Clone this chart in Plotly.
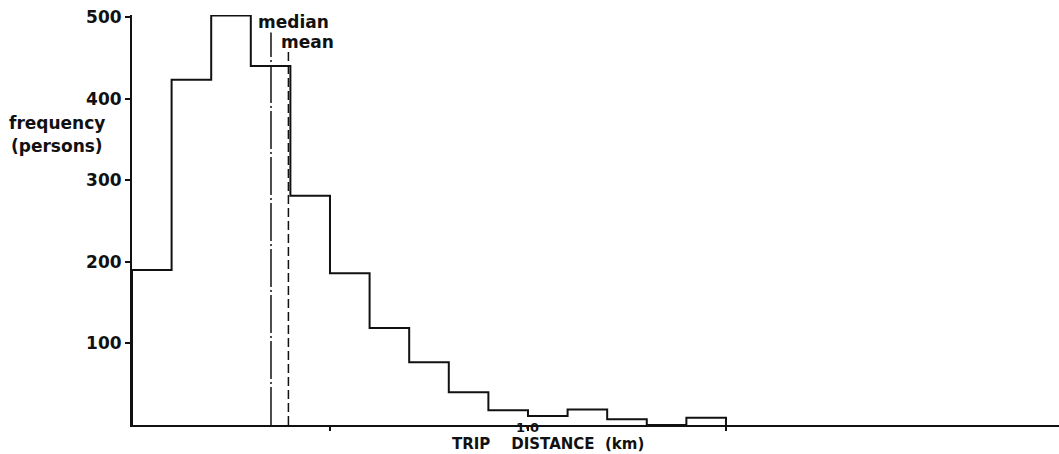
import plotly.graph_objects as go

# Trip-distance histogram: 0.1 km bins from 0.0 to 1.5 km
bin_edges_km = [0.0, 0.1, 0.2, 0.3, 0.4, 0.5, 0.6, 0.7, 0.8, 0.9,
                1.0, 1.1, 1.2, 1.3, 1.4, 1.5]
frequency = [190, 423, 502, 440, 281, 186, 119, 77, 40, 18,
             11, 19, 7, 0, 9]
median_km = 0.351
mean_km = 0.395

y_ticks = [100, 200, 300, 400, 500]
x_ticks = [0.5, 1.0, 1.5]

INK = "#111111"
FONT = "DejaVu Sans"

# step outline of the histogram, closed down to the axis at both ends
step_x = [bin_edges_km[0]] + bin_edges_km[:-1] + [bin_edges_km[-1]]
step_y = [0] + frequency + [0]

fig = go.Figure()
fig.add_trace(go.Scatter(
    x=step_x, y=step_y, mode="lines", line_shape="hv",
    line=dict(color=INK, width=2), hoverinfo="skip", showlegend=False,
))
fig.add_trace(go.Scatter(
    x=[median_km, median_km], y=[0, 481], mode="lines",
    line=dict(color=INK, width=1.5, dash="38px,3px,2px,3px"),
    hoverinfo="skip", showlegend=False,
))
fig.add_trace(go.Scatter(
    x=[mean_km, mean_km], y=[0, 462], mode="lines",
    line=dict(color=INK, width=1.5, dash="9px,4px"),
    hoverinfo="skip", showlegend=False,
))


def bold(size):
    return dict(family=FONT, size=size, color=INK, weight="bold")


annotations = [
    dict(x=0.409, y=494, xref="x", yref="y", text="median", showarrow=False,
         font=bold(17), xanchor="center", yanchor="middle", borderpad=0),
    dict(x=0.442, y=470, xref="x", yref="y", text="mean", showarrow=False,
         font=bold(17), xanchor="center", yanchor="middle", borderpad=0),
    dict(x=-0.1338, y=370, xref="paper", yref="y", text="frequency",
         showarrow=False, font=bold(17), xanchor="left", yanchor="middle",
         borderpad=0),
    dict(x=-0.1318, y=342, xref="paper", yref="y", text="(persons)",
         showarrow=False, font=bold(17), xanchor="left", yanchor="middle",
         borderpad=0),
    dict(x=1.0, y=0, xref="x", yref="paper", text="1·0", showarrow=False,
         font=bold(13), xanchor="center", yanchor="middle", yshift=-2,
         borderpad=0),
    dict(x=1.05, y=0, xref="x", yref="paper",
         text="TRIP\u00a0\u00a0\u00a0 DISTANCE\u00a0 (km)", showarrow=False,
         font=bold(15), xanchor="center", yanchor="middle", yshift=-19,
         borderpad=0),
]

fig.update_layout(
    width=1059, height=454,
    margin=dict(l=132, r=0, t=15, b=29),
    paper_bgcolor="white", plot_bgcolor="white",
    annotations=annotations,
    xaxis=dict(
        range=[0, 2.341], showgrid=False, zeroline=False,
        showline=True, linecolor=INK, linewidth=2,
        tickmode="array", tickvals=x_ticks, ticktext=["", "", ""],
        ticks="outside", ticklen=4, tickwidth=1.5, tickcolor=INK,
    ),
    yaxis=dict(
        range=[0, 502.5], showgrid=False, zeroline=False,
        showline=True, linecolor=INK, linewidth=2,
        tickmode="array", tickvals=y_ticks,
        ticktext=[str(v) for v in y_ticks],
        ticks="outside", ticklen=5, tickwidth=1.5, tickcolor=INK,
        tickfont=bold(17),
    ),
)

fig.write_html("out.html")
